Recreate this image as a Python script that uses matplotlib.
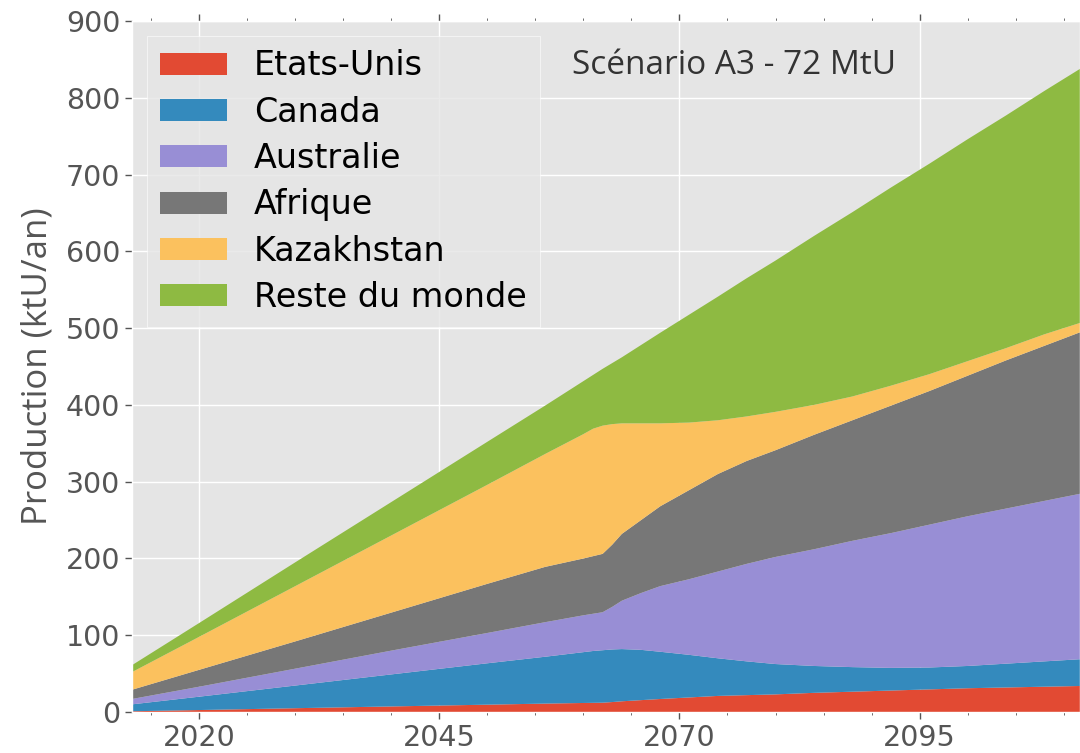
"""
Production d'uranium par région - scénario A3
"""
import matplotlib
matplotlib.use("Agg")
import matplotlib.pyplot as plt

years = [2013, 2020, 2030, 2040, 2050, 2056, 2060, 2061, 2062, 2063, 2064, 2066,
         2068, 2071, 2074, 2077, 2080, 2084, 2088, 2092, 2096, 2100, 2104, 2108, 2112]

# production par région (ktU/an)
etats_unis = [1, 2.6, 5, 7.3, 9.6, 11, 11.8, 12, 12.2, 13, 14, 15.5,
              17, 19, 21, 22, 23, 25, 26.5, 28, 29.5, 31, 32, 33, 34]
canada = [9, 17.4, 29.5, 41.7, 53.9, 61, 66.2, 67.5, 68.3, 68.5, 68, 65.5,
          61.5, 55.5, 49, 44, 39.5, 35, 32, 29.5, 28.5, 29, 31, 33, 35]
australie = [7, 13, 22, 31, 39.5, 45, 48, 48.5, 49.5, 55.5, 63, 74,
             85.5, 98.5, 113, 127, 139.5, 152, 164.5, 175.5, 186, 195, 202, 209, 216]
afrique = [12, 22, 35.5, 49.5, 64, 72, 74, 75, 76, 81, 87, 95,
           104, 116, 127, 134, 139, 149, 157, 166, 174, 183, 193, 202, 211]
kazakhstan = [23, 43, 72, 100.5, 129, 147, 162, 166, 167, 157, 144, 126,
              108, 88, 70, 58, 50, 39, 31, 26, 22, 19, 16, 15, 12]
reste_du_monde = [9, 18, 31, 43.5, 56, 63, 69, 70, 74, 79.5, 86, 102,
                  118, 140.5, 161, 180, 197, 220, 240, 258, 274, 289, 303, 317, 332]

labels = ["Etats-Unis", "Canada", "Australie", "Afrique", "Kazakhstan", "Reste du monde"]
colors = ["#E24A33", "#348ABD", "#988ED5", "#777777", "#FBC15E", "#8EBA42"]

xticks = [2020, 2045, 2070, 2095]
xminor = list(range(2015, 2112, 5))
yticks = list(range(0, 901, 100))

plt.style.use("ggplot")

fig = plt.figure(figsize=(10.8, 7.53), dpi=100)
ax = fig.add_axes([0.1222, 0.0544, 0.8778, 0.9177])

ax.stackplot(years, etats_unis, canada, australie, afrique, kazakhstan, reste_du_monde,
             labels=labels, colors=colors, linewidth=0)

ax.set_xlim(2013, 2111.7)
ax.set_ylim(0, 900)
ax.set_xticks(xticks)
ax.set_xticks(xminor, minor=True)
ax.set_yticks(yticks)
ax.tick_params(axis="both", which="major", labelsize=20.5, colors="#555555",
               length=5, width=1, direction="out", pad=3.5)
ax.tick_params(axis="x", which="both", top=True)
ax.tick_params(axis="x", which="minor", length=2.5, color="#555555")
ax.grid(True, which="major", color="white", linewidth=1)
ax.set_axisbelow(True)

ax.set_ylabel("Production (ktU/an)", fontsize=25, color="#555555",
              family="Open Sans", labelpad=8)

ax.text(0.464, 0.935, "Scénario A3 - 72 MtU", transform=ax.transAxes,
        fontsize=24, color="#333333", family="Open Sans", va="center")

leg = ax.legend(loc="upper left", fontsize=24, frameon=True, fancybox=False,
                handlelength=2.0, handleheight=0.63, handletextpad=0.8,
                borderpad=0.4, labelspacing=0.4, borderaxespad=0.45)
leg.get_frame().set_facecolor("#E5E5E5")
leg.get_frame().set_edgecolor("white")
for t in leg.get_texts():
    t.set_color("black")

fig.savefig("out.png", dpi=100)
